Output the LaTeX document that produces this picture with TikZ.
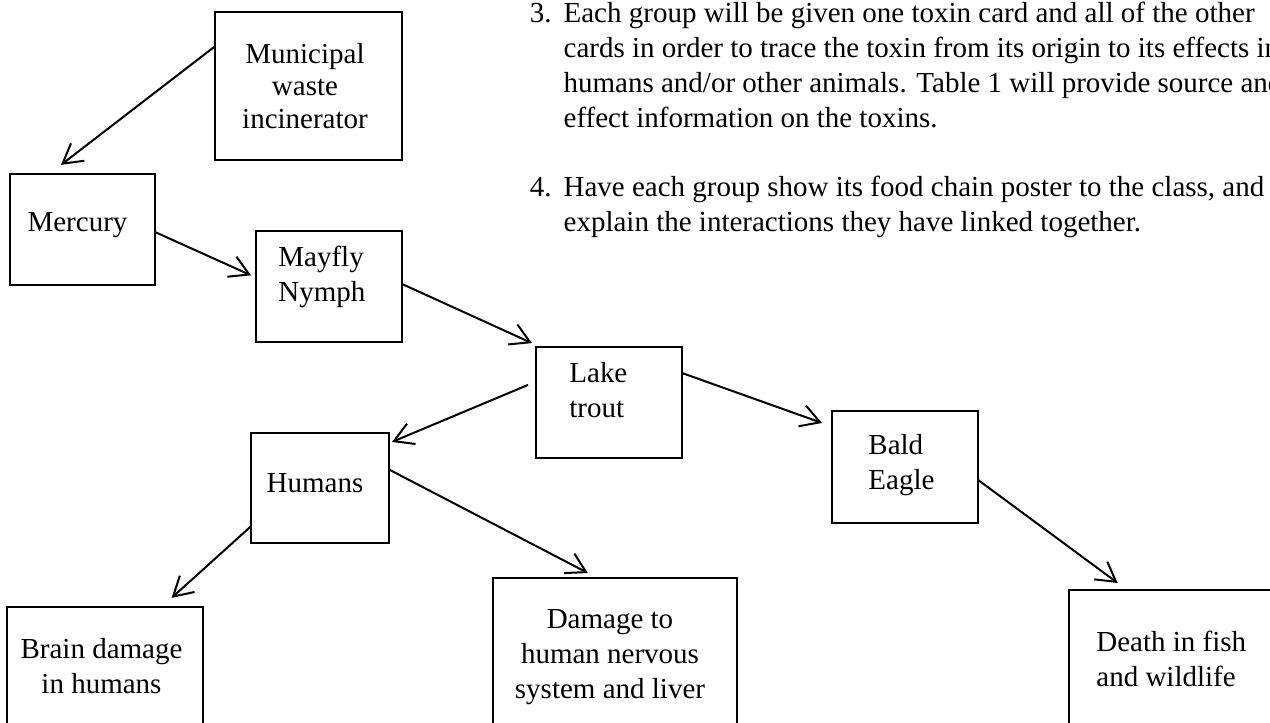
\documentclass[tikz,border=0pt]{standalone}
\usepackage{fontspec}
\setmainfont{Liberation Serif}
\usepackage{tikz}
\usetikzlibrary{arrows.meta}

\begin{document}
\begin{tikzpicture}[x=0.5pt, y=-0.5pt,
    box/.style={draw, line width=1.1pt, inner sep=0pt, outer sep=0pt},
    lbl/.style={inner sep=0pt, font=\fontsize{14.5}{17.5}\selectfont},
    link/.style={line width=1pt, -{Straight Barb[length=9.5pt, width=11pt]}}]
    % Cornice
    \path[use as bounding box, clip] (0,0) rectangle (1270,723);
    % Riquadri
    \node[box, minimum width=93.5pt, minimum height=74pt] (mun) at (308.5,86) {};
    \node[box, minimum width=72.5pt, minimum height=55.5pt] (mer) at (82.5,229.5) {};
    \node[box, minimum width=73pt, minimum height=55.5pt] (may) at (329,286.5) {};
    \node[box, minimum width=73pt, minimum height=55.5pt] (lake) at (609,402.5) {};
    \node[box, minimum width=69pt, minimum height=55pt] (hum) at (320,488) {};
    \node[box, minimum width=73pt, minimum height=56pt] (eag) at (905,467) {};
    \node[box, minimum width=98pt, minimum height=75pt] (brn) at (105,682) {};
    \node[box, minimum width=122pt, minimum height=76pt] (dmg) at (615,654) {};
    \node[box, minimum width=115.5pt, minimum height=85pt] (dth) at (1184.5,675) {};
    % Testi (base = ultima riga)
    \node[lbl, align=center, anchor=base, font=\fontsize{14.5}{16.25}\selectfont] (mun-t) at (305,128) {Municipal\\waste\\incinerator};
    \node[lbl, anchor=base] (mer-t) at (77.5,231) {Mercury};
    \node[lbl, align=left, anchor=base west] (may-t) at (278,301) {Mayfly\\Nymph};
    \node[lbl, align=left, anchor=base west] (lake-t) at (569,417) {Lake\\trout};
    \node[lbl, anchor=base] (hum-t) at (315,492) {Humans};
    \node[lbl, align=left, anchor=base west] (eag-t) at (868,489) {Bald\\Eagle};
    \node[lbl, align=center, anchor=base] (brn-t) at (101.5,693) {Brain damage\\in humans};
    \node[lbl, align=center, anchor=base] (dmg-t) at (610,698) {Damage to\\human nervous\\system and liver};
    \node[lbl, align=left, anchor=base west] (dth-t) at (1096,686) {Death in fish\\and wildlife};
    % Istruzioni
    \node[lbl, anchor=base west] (step3) at (529.5,22) {\begin{tabular}[t]{@{}l@{\hspace{6pt}}l@{}}
        3. & Each group will be given one toxin card and all of the other\\
           & cards in order to trace the toxin from its origin to its effects in\\
           & humans and/or other animals. Table 1 will provide source and\\
           & effect information on the toxins.
    \end{tabular}};
    \node[lbl, anchor=base west] (step4) at (529.5,196) {\begin{tabular}[t]{@{}l@{\hspace{6pt}}l@{}}
        4. & Have each group show its food chain poster to the class, and\\
           & explain the interactions they have linked together.
    \end{tabular}};
    % Frecce
    \draw[link, shorten >=7.5pt] (mun.157.9) -- (mer.121.8);
    \draw[link, shorten >=2.7pt] (mer.-2.7) -- (may.173.6);
    \draw[link, shorten >=4.7pt] (may.2.7) -- (lake.141.8);
    \draw[link, shorten <=4.3pt, shorten >=1.6pt] (lake.164.1) -- (hum.33.6);
    \draw[link, shorten >=5.3pt] (lake.22) -- (eag.151);
    \draw[link, shorten >=6.8pt] (hum.209.3) -- (brn.53.8);
    \draw[link, shorten >=5.4pt] (hum.15.4) -- (dmg.103.7);
    \draw[link, shorten >=5.9pt] (eag.-10.1) -- (dth.124.4);
\end{tikzpicture}
\end{document}
